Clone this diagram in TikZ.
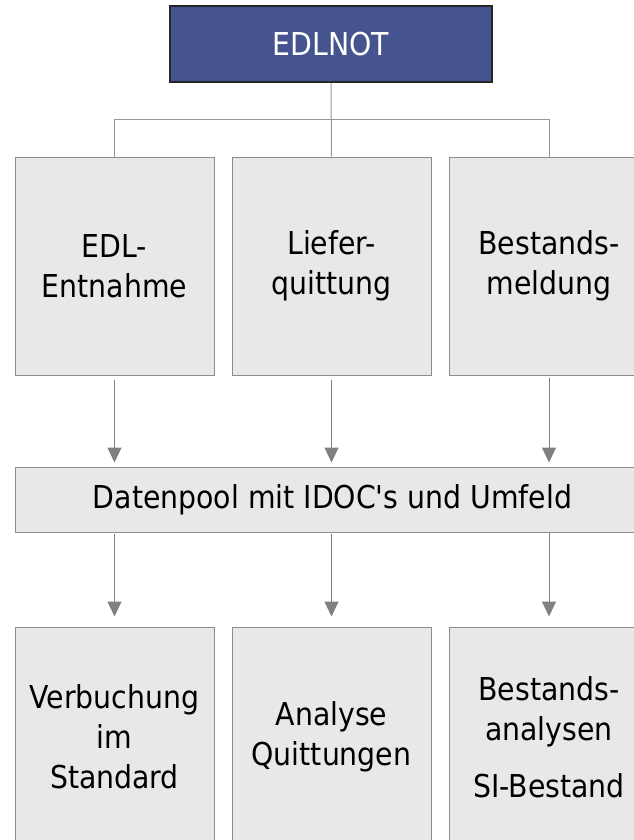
\documentclass[tikz,border=0pt]{standalone}
\usepackage{fontspec}
\setmainfont{DejaVu Sans Condensed}
\usetikzlibrary{arrows.meta}
\definecolor{topblue}{RGB}{69,84,142}
\definecolor{boxgrey}{RGB}{232,232,232}
\definecolor{edgegrey}{RGB}{140,140,140}
\definecolor{linegrey}{RGB}{150,150,150}
\definecolor{arrgrey}{RGB}{128,128,128}
\tikzset{
  topbox/.style={draw=black!85, line width=1.6pt, fill=topblue, text=white, minimum width=322pt, minimum height=76pt, inner sep=0pt, font=\fontsize{31.5}{40}\selectfont},
  greybox/.style={draw=edgegrey, line width=1pt, fill=boxgrey, minimum width=199pt, inner sep=0pt, align=center, font=\fontsize{31.5}{40}\selectfont},
  conn/.style={draw=linegrey, line width=1pt},
  arr/.style={draw=arrgrey, line width=1pt, -{Triangle[length=15pt,width=14pt]}}
}
\begin{document}
\begin{tikzpicture}[x=1pt,y=1pt]
\useasboundingbox (0,0) rectangle (634,-840);
\node[topbox] (top) at (331,-44) {EDLNOT};
\node[greybox, minimum height=218pt] (b1) at (114.5,-266) {EDL-\\Entnahme};
\node[greybox, minimum height=218pt] (b2) at (331.5,-266) {Liefer-\\quittung};
\node[greybox, minimum height=218pt] (b3) at (549,-266) {Bestands-\\meldung};
\node[greybox, minimum width=635pt, minimum height=65pt] (dp) at (332.5,-499.5) {Datenpool mit IDOC\textquotesingle s und Umfeld};
\node[greybox, minimum height=220pt] (c1) at (114.5,-737) {Verbuchung\\im\\Standard};
\node[greybox, minimum height=220pt] (c2) at (331.5,-737) {Analyse\\Quittungen};
\node[greybox, minimum height=220pt] (c3) at (549,-737) {Bestands-\\analysen\\[17pt]SI-Bestand};
\draw[conn] (top.south) -- (b2.north);
\draw[conn] (b1.north) -- ++(0,37) -| (b3.north);
\draw[arr, shorten <=4pt, shorten >=4pt] (b1.south) -- (b1.south |- dp.north);
\draw[arr, shorten <=4pt, shorten >=4pt] (b2.south) -- (b2.south |- dp.north);
\draw[arr, shorten <=2pt, shorten >=4pt] (b3.south) -- (b3.south |- dp.north);
\draw[arr, shorten <=1pt, shorten >=10pt] (dp.south -| c1.north) -- (c1.north);
\draw[arr, shorten <=1pt, shorten >=10pt] (dp.south -| c2.north) -- (c2.north);
\draw[arr, shorten <=0pt, shorten >=10pt] (dp.south -| c3.north) -- (c3.north);
\end{tikzpicture}
\end{document}
